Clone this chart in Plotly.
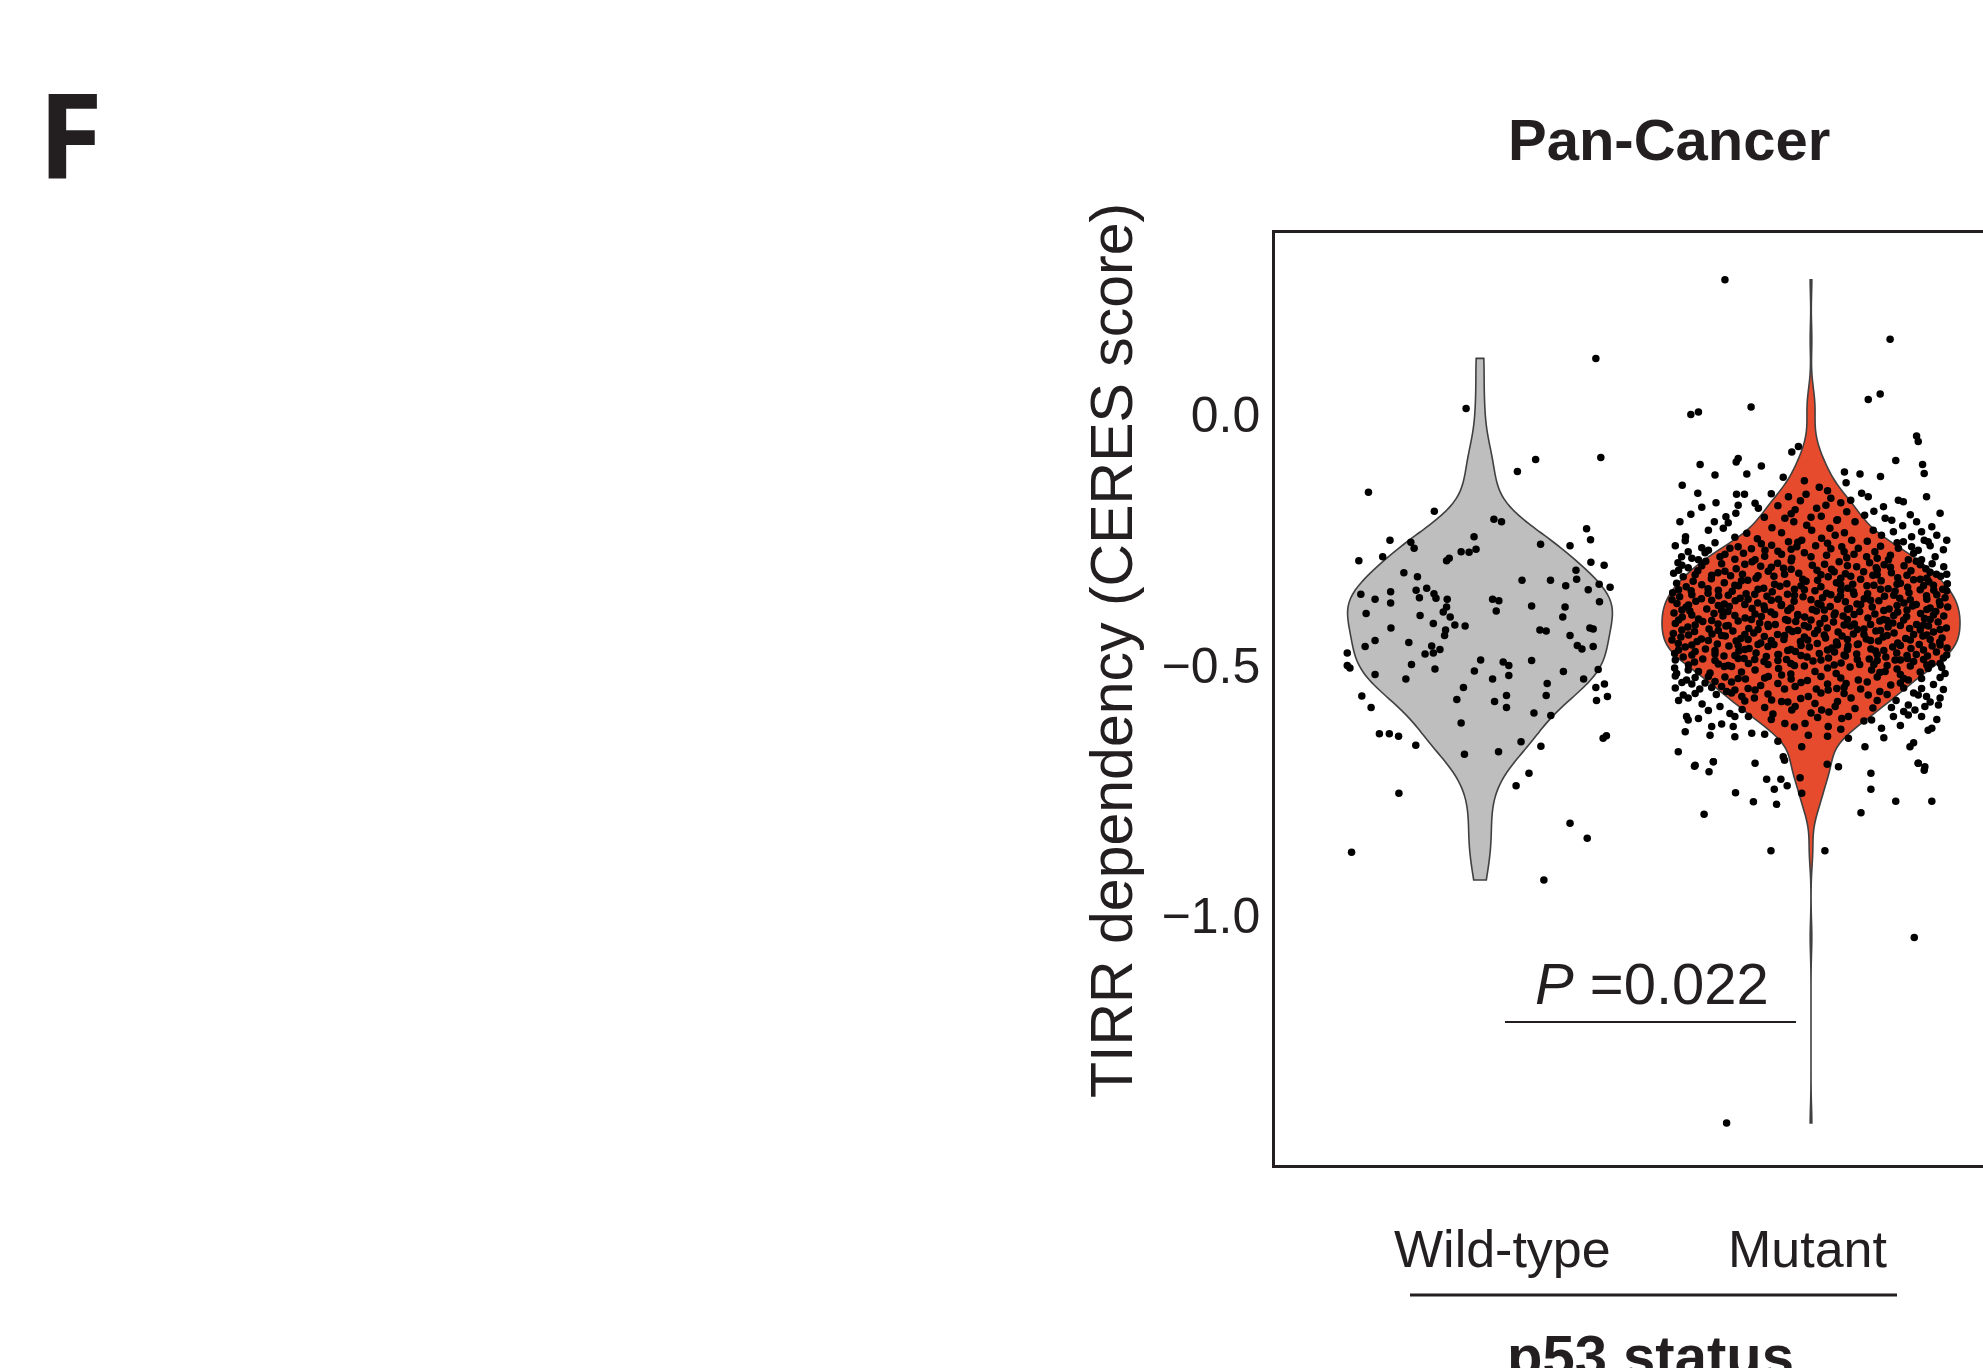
import numpy as np
import plotly.graph_objects as go

# ---------------- data ----------------
categories = ["Wild-type", "Mutant"]
group_title = "p53 status"
panel_label = "F"
chart_title = "Pan-Cancer"
y_title = "TIRR dependency (CERES score)"
y_tick_vals = [0.0, -0.5, -1.0]
y_tick_text = ["0.0", "\u22120.5", "\u22121.0"]
p_text = "<i>P</i> =0.022"

# (jitter offset, CERES score) for each wild-type cell line
wildtype_points = [
    (0.35, 0.112), (-0.042, 0.012), (0.365, -0.086), (0.168, -0.090), (0.113, -0.114),
    (-0.337, -0.155), (-0.138, -0.193), (0.042, -0.209), (0.065, -0.214), (0.322, -0.228),
    (-0.018, -0.244), (0.334, -0.25), (-0.272, -0.251), (-0.209, -0.255), (-0.199, -0.267),
    (0.183, -0.259), (0.272, -0.262), (-0.012, -0.269), (-0.033, -0.275), (-0.057, -0.274),
    (-0.294, -0.284), (-0.093, -0.287), (-0.101, -0.292), (-0.366, -0.292), (0.335, -0.295),
    (0.375, -0.301), (-0.230, -0.316), (0.29, -0.311), (-0.189, -0.324), (0.292, -0.329),
    (0.127, -0.331), (0.213, -0.331), (0.259, -0.342), (0.36, -0.339), (0.393, -0.345),
    (-0.161, -0.347), (-0.360, -0.359), (-0.270, -0.354), (-0.193, -0.351), (-0.139, -0.358),
    (0.327, -0.350), (-0.317, -0.369), (-0.270, -0.376), (-0.183, -0.366), (-0.133, -0.367),
    (-0.099, -0.369), (0.038, -0.369), (0.057, -0.372), (0.361, -0.374), (0.156, -0.382),
    (0.257, -0.384), (-0.101, -0.384), (-0.344, -0.397), (-0.111, -0.394), (0.049, -0.392),
    (-0.181, -0.401), (-0.09, -0.404), (0.25, -0.404),
    (-0.141, -0.417), (-0.076, -0.420), (-0.045, -0.422), (-0.269, -0.426), (-0.104, -0.430),
    (0.181, -0.430), (0.200, -0.432), (0.332, -0.426), (0.342, -0.428), (0.272, -0.441),
    (-0.107, -0.441), (-0.317, -0.451), (-0.215, -0.455), (-0.347, -0.463), (-0.401, -0.476),
    (-0.146, -0.462), (-0.121, -0.469), (-0.166, -0.478), (-0.141, -0.476), (0.294, -0.461),
    (0.308, -0.468), (0.342, -0.463), (0.156, -0.491), (0.002, -0.490), (0.07, -0.494),
    (0.087, -0.501), (-0.401, -0.501), (-0.393, -0.506), (-0.207, -0.499), (-0.136, -0.508),
    (-0.017, -0.512), (0.252, -0.513), (0.357, -0.509), (-0.317, -0.519), (-0.224, -0.528),
    (0.038, -0.528), (0.087, -0.521), (0.203, -0.537), (0.313, -0.528), (0.350, -0.545),
    (0.376, -0.538), (-0.050, -0.545), (-0.357, -0.562), (-0.070, -0.569), (0.044, -0.573),
    (0.08, -0.561), (0.2, -0.561), (0.385, -0.563), (0.352, -0.571), (-0.329, -0.585),
    (0.08, -0.585), (0.163, -0.596), (0.214, -0.601), (-0.057, -0.616), (-0.304, -0.637),
    (-0.274, -0.637), (-0.246, -0.642), (-0.194, -0.660), (-0.047, -0.678), (0.056, -0.673),
    (0.124, -0.653), (0.184, -0.662), (0.372, -0.646), (0.382, -0.641), (0.148, -0.716),
    (0.109, -0.741), (-0.245, -0.756), (0.272, -0.816), (0.324, -0.846), (-0.388, -0.874),
    (0.193, -0.929),
]

# (jitter offset, CERES score) for each mutant cell line
mutant_points = [
    # upper tail
    (-0.26, 0.269), (0.239, 0.150), (0.209, 0.041), (0.173, 0.030), (-0.181, 0.015),
    (-0.34, 0.005), (-0.363, 0.0), (0.319, -0.043), (0.324, -0.054), (-0.038, -0.064),
    (-0.058, -0.075), (-0.22, -0.088), (0.256, -0.092), (-0.226, -0.095), (0.337, -0.1),
    (-0.335, -0.1), (-0.15, -0.103),
    (-0.29, -0.121), (-0.194, -0.119), (-0.084, -0.125), (0.101, -0.115), (0.148, -0.119),
    (0.21, -0.124), (0.342, -0.118), (0.106, -0.136), (-0.389, -0.141), (-0.342, -0.157),
    (-0.225, -0.159), (-0.201, -0.159), (0.153, -0.157), (0.173, -0.164), (0.264, -0.171),
    (0.279, -0.174), (0.349, -0.164), (-0.068, -0.164), (-0.015, -0.159), (-0.287, -0.176),
    (-0.169, -0.177), (-0.159, -0.187), (0.017, -0.187), (0.219, -0.184),
    (-0.032, -0.172), (0.045, -0.181), (-0.048, -0.19), (0.06, -0.167), (-0.1, -0.182),
    (0.09, -0.176), (0.025, -0.145), (-0.02, -0.132),
    (-0.33, -0.185), (-0.12, -0.158), (-0.06, -0.198), (0.05, -0.152), (0.12, -0.171),
    (0.19, -0.193), (0.30, -0.200), (-0.22, -0.181), (0.00, -0.205), (0.08, -0.210),
    (-0.396, -0.214), (-0.363, -0.199), (-0.292, -0.214), (-0.257, -0.204), (-0.227, -0.197),
    (-0.079, -0.207), (0.108, -0.194), (0.224, -0.207), (0.244, -0.211), (0.39, -0.197),
    (0.319, -0.214), (-0.379, -0.244), (-0.31, -0.231), (-0.265, -0.227), (-0.23, -0.245),
    (-0.194, -0.237), (-0.089, -0.236), (-0.013, -0.221), (0.002, -0.231), (0.057, -0.227),
    (0.078, -0.211), (0.133, -0.214), (0.188, -0.231), (0.213, -0.241), (0.249, -0.234),
    (0.279, -0.254), (0.304, -0.244), (0.334, -0.234), (0.365, -0.224), (0.38, -0.241),
    (0.342, -0.251), (0.304, -0.264), (0.324, -0.271), (0.354, -0.254), (-0.391, -0.284),
    (-0.371, -0.274), (-0.34, -0.29), (-0.31, -0.271), (-0.275, -0.284), (-0.245, -0.267),
    (-0.22, -0.264), (-0.204, -0.277), (-0.169, -0.29), (-0.139, -0.271), (-0.119, -0.261),
    (-0.068, -0.254), (-0.043, -0.264), (-0.028, -0.251), (0.032, -0.247), (0.073, -0.241),
    (0.093, -0.264), (0.123, -0.251), (0.143, -0.267), (0.168, -0.284), (0.193, -0.274),
    (0.234, -0.29), (0.264, -0.267), (0.294, -0.29), (0.334, -0.29), (0.375, -0.284),
    (-0.141, -0.205), (-0.052, -0.214), (0.031, -0.203), (0.162, -0.201), (-0.118, -0.226),
    (0.101, -0.236), (-0.162, -0.248), (0.014, -0.262), (-0.089, -0.279), (0.047, -0.281),
    (0.108, -0.286), (-0.058, -0.287), (-0.25, -0.216), (0.277, -0.222),
    (-0.41, -0.262), (-0.33, -0.266), (-0.26, -0.279), (-0.18, -0.268), (-0.10, -0.273),
    (-0.02, -0.276), (0.06, -0.268), (0.13, -0.279), (0.21, -0.263), (0.40, -0.270),
    (-0.36, -0.287), (-0.23, -0.289), (0.00, -0.284), (0.20, -0.287), (0.36, -0.262),
    (-0.38, -0.252), (-0.29, -0.256), (-0.15, -0.258), (-0.04, -0.255), (0.05, -0.257),
    (0.17, -0.253), (0.26, -0.256), (0.41, -0.251),
    (-0.32, -0.276), (-0.14, -0.283), (-0.06, -0.269), (0.10, -0.274), (0.24, -0.281), (0.31, -0.277),
    # dense core
    (-0.39, -0.301), (-0.20, -0.299), (-0.12, -0.305), (0.11, -0.302), (0.24, -0.305), (0.33, -0.300),
    (-0.40, -0.311), (-0.26, -0.313), (-0.06, -0.309), (0.07, -0.314), (0.20, -0.310), (0.36, -0.315),
    (-0.30, -0.321), (-0.16, -0.322), (0.03, -0.320), (0.12, -0.323), (0.29, -0.321), (0.35, -0.327),
    (-0.402, -0.296), (-0.318, -0.293), (-0.27, -0.298), (-0.178, -0.294), (-0.101, -0.297), (-0.06, -0.292),
    (0.041, -0.299), (0.085, -0.294), (0.177, -0.296), (0.221, -0.300), (0.318, -0.293), (0.366, -0.298),
    (-0.371, -0.306), (-0.33, -0.302), (-0.226, -0.308), (-0.152, -0.303), (-0.083, -0.307), (0.004, -0.301),
    (0.062, -0.309), (0.138, -0.304), (0.197, -0.306), (0.281, -0.302), (0.347, -0.308), (0.401, -0.304),
    (-0.415, -0.317), (-0.342, -0.312), (-0.281, -0.316), (-0.207, -0.319), (-0.129, -0.313), (-0.037, -0.317),
    (0.018, -0.311), (0.104, -0.318), (0.159, -0.314), (0.243, -0.316), (0.302, -0.312), (0.379, -0.319),
    (-0.386, -0.324), (-0.301, -0.328), (-0.243, -0.322), (-0.166, -0.327), (-0.112, -0.323), (-0.025, -0.329),
    (0.052, -0.324), (0.09, -0.327), (0.187, -0.321), (0.262, -0.326), (0.33, -0.329), (0.392, -0.323),
    (-0.406, -0.337), (-0.356, -0.333), (-0.262, -0.336), (-0.191, -0.331), (-0.073, -0.338), (-0.015, -0.333),
    (0.077, -0.336), (0.126, -0.339), (0.212, -0.332), (0.27, -0.337), (0.356, -0.334), (0.412, -0.338),
    (-0.377, -0.344), (-0.311, -0.348), (-0.219, -0.342), (-0.143, -0.347), (-0.094, -0.343), (-0.05, -0.349),
    (0.03, -0.344), (0.111, -0.347), (0.169, -0.342), (0.233, -0.348), (0.292, -0.345), (0.37, -0.341), (0.398, -0.349),
    (-0.418, -0.356), (-0.362, -0.352), (-0.311, -0.357), (-0.238, -0.353), (-0.196, -0.358), (-0.117, -0.354), (-0.071, -0.359),
    (0.012, -0.352), (0.047, -0.357), (0.128, -0.354), (0.171, -0.358), (0.254, -0.353), (0.296, -0.356), (0.371, -0.351),
    (-0.397, -0.364), (-0.331, -0.368), (-0.279, -0.362), (-0.214, -0.367), (-0.133, -0.363), (-0.098, -0.369), (-0.024, -0.364),
    (0.035, -0.366), (0.089, -0.362), (0.161, -0.368), (0.222, -0.363), (0.268, -0.367), (0.349, -0.362), (0.405, -0.366),
    (-0.405, -0.377), (-0.348, -0.373), (-0.262, -0.378), (-0.229, -0.372), (-0.161, -0.376), (-0.089, -0.379), (-0.051, -0.373),
    (0.021, -0.377), (0.104, -0.374), (0.139, -0.378), (0.205, -0.372), (0.281, -0.376), (0.318, -0.379), (0.388, -0.374),
    (-0.377, -0.384), (-0.315, -0.388), (-0.247, -0.383), (-0.178, -0.387), (-0.142, -0.382), (-0.061, -0.386), (0.004, -0.389),
    (0.058, -0.383), (0.116, -0.387), (0.185, -0.384), (0.236, -0.388), (0.307, -0.382), (0.36, -0.386), (0.413, -0.384),
    (-0.414, -0.396), (-0.366, -0.392), (-0.293, -0.397), (-0.251, -0.393), (-0.169, -0.398), (-0.121, -0.394), (-0.04, -0.399),
    (0.016, -0.392), (0.073, -0.396), (0.147, -0.393), (0.193, -0.398), (0.262, -0.394), (0.331, -0.397), (0.377, -0.393),
    (-0.389, -0.404), (-0.34, -0.408), (-0.266, -0.402), (-0.199, -0.406), (-0.15, -0.403), (-0.077, -0.409), (-0.019, -0.404),
    (0.041, -0.407), (0.097, -0.402), (0.172, -0.406), (0.219, -0.409), (0.289, -0.403), (0.343, -0.407), (0.401, -0.402),
    (-0.41, -0.417), (-0.327, -0.413), (-0.281, -0.418), (-0.22, -0.412), (-0.155, -0.416), (-0.108, -0.419), (-0.046, -0.413),
    (0.027, -0.417), (0.068, -0.414), (0.131, -0.418), (0.208, -0.412), (0.247, -0.416), (0.319, -0.419), (0.384, -0.414),
    (-0.372, -0.424), (-0.308, -0.428), (-0.257, -0.422), (-0.188, -0.427), (-0.129, -0.423), (-0.067, -0.429), (-0.008, -0.424),
    (0.049, -0.426), (0.119, -0.422), (0.16, -0.428), (0.233, -0.424), (0.298, -0.427), (0.355, -0.422), (0.409, -0.426),
    (-0.416, -0.437), (-0.352, -0.433), (-0.299, -0.438), (-0.236, -0.432), (-0.173, -0.436), (-0.101, -0.439), (-0.056, -0.433),
    (0.011, -0.437), (0.082, -0.434), (0.128, -0.438), (0.196, -0.432), (0.251, -0.436), (0.31, -0.439), (0.37, -0.434),
    (-0.393, -0.444), (-0.331, -0.448), (-0.259, -0.442), (-0.212, -0.447), (-0.141, -0.443), (-0.082, -0.449), (-0.02, -0.444),
    (0.044, -0.446), (0.094, -0.442), (0.167, -0.448), (0.218, -0.444), (0.286, -0.447), (0.338, -0.442), (0.396, -0.446),
    (-0.401, -0.457), (-0.344, -0.453), (-0.283, -0.458), (-0.226, -0.452), (-0.152, -0.456), (-0.112, -0.459), (-0.032, -0.453),
    (0.019, -0.457), (0.077, -0.454), (0.143, -0.458), (0.204, -0.452), (0.262, -0.456), (0.327, -0.459), (0.389, -0.454),
    (-0.38, -0.464), (-0.319, -0.468), (-0.248, -0.462), (-0.187, -0.467), (-0.13, -0.463), (-0.061, -0.469), (-0.005, -0.464),
    (0.063, -0.466), (0.112, -0.462), (0.181, -0.468), (0.247, -0.464), (0.302, -0.467), (0.366, -0.462), (0.411, -0.466),
    (-0.412, -0.477), (-0.35, -0.473), (-0.29, -0.478), (-0.218, -0.472), (-0.166, -0.476), (-0.098, -0.479), (-0.047, -0.473),
    (0.025, -0.477), (0.071, -0.474), (0.138, -0.478), (0.195, -0.472), (0.259, -0.476), (0.318, -0.479), (0.379, -0.474),
    (-0.386, -0.484), (-0.327, -0.488), (-0.263, -0.482), (-0.202, -0.487), (-0.135, -0.483), (-0.074, -0.489), (-0.012, -0.484),
    (0.053, -0.486), (0.104, -0.482), (0.176, -0.488), (0.226, -0.484), (0.291, -0.487), (0.352, -0.482), (0.4, -0.486),
    (-0.352, -0.494), (-0.28, -0.498), (-0.142, -0.493), (-0.061, -0.497), (0.006, -0.492), (0.091, -0.496),
    (0.147, -0.499), (0.31, -0.493), (0.365, -0.497),
    (-0.412, -0.506), (-0.262, -0.503), (-0.098, -0.507), (-0.02, -0.502), (0.05, -0.506), (0.118, -0.504),
    (0.26, -0.508), (0.3, -0.502), (0.395, -0.505),
    (-0.305, -0.516), (-0.21, -0.514), (-0.061, -0.518), (0.012, -0.513), (0.076, -0.517), (0.208, -0.515),
    (0.27, -0.519), (0.33, -0.514), (0.405, -0.517),
    # core, filling between the rows above
    (-0.35, -0.320), (-0.08, -0.319), (0.20, -0.320), (0.41, -0.319),
    (-0.21, -0.332), (0.02, -0.331), (0.15, -0.329), (0.31, -0.330),
    (-0.33, -0.340), (-0.23, -0.341), (-0.11, -0.339), (-0.03, -0.342), (0.09, -0.340), (0.19, -0.341), (0.26, -0.339), (0.34, -0.342),
    (-0.40, -0.350), (-0.28, -0.351), (-0.16, -0.349), (-0.02, -0.350), (0.09, -0.351), (0.21, -0.349), (0.33, -0.350), (0.41, -0.352),
    (-0.36, -0.360), (-0.25, -0.361), (-0.17, -0.359), (-0.05, -0.361), (0.06, -0.360), (0.13, -0.359), (0.25, -0.361), (0.38, -0.360),
    (-0.42, -0.370), (-0.30, -0.371), (-0.19, -0.369), (-0.12, -0.371), (0.00, -0.370), (0.08, -0.369), (0.18, -0.371), (0.30, -0.370), (0.35, -0.369),
    (-0.37, -0.380), (-0.28, -0.381), (-0.20, -0.379), (-0.09, -0.381), (0.03, -0.380), (0.15, -0.379), (0.26, -0.381), (0.39, -0.380),
    (-0.39, -0.390), (-0.27, -0.391), (-0.14, -0.389), (-0.07, -0.391), (0.04, -0.390), (0.11, -0.389), (0.22, -0.391), (0.29, -0.390), (0.35, -0.389),
    (-0.36, -0.400), (-0.23, -0.401), (-0.11, -0.399), (-0.04, -0.401), (0.07, -0.400), (0.13, -0.399), (0.25, -0.401), (0.37, -0.400),
    (-0.40, -0.410), (-0.30, -0.411), (-0.18, -0.409), (-0.07, -0.411), (0.00, -0.410), (0.11, -0.409), (0.23, -0.411), (0.28, -0.410), (0.36, -0.409),
    (-0.35, -0.420), (-0.25, -0.421), (-0.13, -0.419), (-0.02, -0.421), (0.10, -0.420), (0.18, -0.419), (0.27, -0.421), (0.34, -0.420),
    (-0.39, -0.430), (-0.28, -0.431), (-0.16, -0.429), (-0.04, -0.431), (0.02, -0.430), (0.14, -0.429), (0.21, -0.431), (0.33, -0.430), (0.39, -0.429),
    (-0.37, -0.440), (-0.27, -0.441), (-0.20, -0.439), (-0.08, -0.441), (0.04, -0.440), (0.16, -0.439), (0.23, -0.441), (0.35, -0.440),
    (-0.42, -0.450), (-0.31, -0.451), (-0.19, -0.449), (-0.12, -0.451), (-0.01, -0.450), (0.11, -0.449), (0.18, -0.451), (0.30, -0.450), (0.36, -0.449),
    (-0.36, -0.460), (-0.22, -0.461), (-0.16, -0.459), (-0.03, -0.461), (0.08, -0.460), (0.14, -0.459), (0.27, -0.461), (0.39, -0.460),
    (-0.40, -0.470), (-0.29, -0.471), (-0.20, -0.469), (-0.07, -0.471), (0.05, -0.470), (0.11, -0.469), (0.22, -0.471), (0.34, -0.470),
    (-0.36, -0.480), (-0.23, -0.481), (-0.10, -0.479), (-0.03, -0.481), (0.10, -0.480), (0.20, -0.479), (0.29, -0.481), (0.41, -0.480),
    (-0.41, -0.490), (-0.29, -0.491), (-0.17, -0.489), (-0.10, -0.491), (0.03, -0.490), (0.14, -0.489), (0.20, -0.491), (0.27, -0.490), (0.34, -0.489),
    (-0.37, -0.500), (-0.25, -0.501), (-0.13, -0.499), (-0.05, -0.501), (0.07, -0.500), (0.19, -0.499), (0.23, -0.501), (0.35, -0.500),
    # lower shoulder
    (-0.41, -0.522), (-0.35, -0.525), (-0.26, -0.524), (-0.22, -0.527), (-0.14, -0.526), (-0.06, -0.528),
    (0.03, -0.523), (0.09, -0.526), (0.20, -0.524), (0.28, -0.527), (0.39, -0.525),
    (-0.39, -0.535), (-0.32, -0.536), (-0.24, -0.534), (-0.10, -0.537), (-0.03, -0.535), (0.05, -0.538),
    (0.17, -0.534), (0.27, -0.536), (0.37, -0.539),
    (-0.41, -0.546), (-0.30, -0.545), (-0.19, -0.547), (-0.08, -0.548), (0.10, -0.545), (0.15, -0.548),
    (0.28, -0.546), (0.40, -0.549),
    (-0.35, -0.557), (-0.24, -0.556), (-0.13, -0.558), (0.03, -0.556), (0.10, -0.557), (0.23, -0.559), (0.31, -0.556),
    (-0.40, -0.571), (-0.20, -0.572), (-0.07, -0.574), (0.08, -0.573), (0.20, -0.571), (0.36, -0.574),
    (-0.31, -0.591), (-0.14, -0.585), (0.00, -0.596), (0.28, -0.593),
    (-0.34, -0.607), (-0.12, -0.609), (0.02, -0.605), (0.16, -0.612), (0.38, -0.609),
    (-0.27, -0.618), (-0.05, -0.624), (0.09, -0.628), (0.27, -0.621),
    (-0.38, -0.633), (-0.14, -0.638), (0.05, -0.642), (0.22, -0.645),
    (-0.10, -0.652), (0.31, -0.655),
    (-0.406, -0.517), (-0.371, -0.510), (-0.376, -0.530), (-0.340, -0.513), (-0.310, -0.523),
    (-0.290, -0.533), (-0.270, -0.543), (-0.255, -0.553), (-0.230, -0.550), (-0.386, -0.560),
    (-0.371, -0.566), (-0.275, -0.583), (-0.245, -0.597), (-0.230, -0.603), (-0.376, -0.603),
    (-0.371, -0.610), (-0.300, -0.623), (-0.305, -0.640), (-0.235, -0.623), (-0.230, -0.643),
    (-0.189, -0.603), (-0.179, -0.636), (-0.401, -0.673), (-0.350, -0.700), (-0.295, -0.693),
    (-0.084, -0.683), (-0.169, -0.696),
    (0.294, -0.530), (0.334, -0.527), (0.390, -0.497), (0.354, -0.507), (0.334, -0.547),
    (0.324, -0.560), (0.349, -0.563), (0.390, -0.566), (0.385, -0.580), (0.294, -0.580),
    (0.344, -0.583), (0.314, -0.590), (0.249, -0.603), (0.294, -0.600), (0.334, -0.603),
    (0.213, -0.626), (0.354, -0.630), (0.365, -0.626), (0.163, -0.663), (0.299, -0.663),
    (0.324, -0.696), (0.344, -0.703),
    (-0.129, -0.523), (-0.089, -0.520), (-0.048, -0.543), (-0.008, -0.563), (0.052, -0.550),
    (0.078, -0.547), (0.012, -0.577), (0.032, -0.590), (0.073, -0.583), (0.093, -0.607),
    (0.113, -0.603), (0.133, -0.587), (-0.079, -0.617), (-0.018, -0.617), (-0.008, -0.640),
    (-0.028, -0.663), (0.052, -0.623), (0.113, -0.646), (0.183, -0.610), (0.173, -0.560),
    (0.143, -0.530), (0.183, -0.510), (0.224, -0.513), (0.254, -0.490), (-0.169, -0.550),
    (-0.209, -0.563), (-0.119, -0.570), (-0.089, -0.573), (-0.048, -0.583), (-0.058, -0.590),
    (-0.189, -0.497), (-0.169, -0.510), (-0.240, -0.503), (-0.220, -0.487),
    (-0.36, -0.538), (-0.198, -0.528), (-0.011, -0.531), (0.106, -0.537), (0.241, -0.54),
    (-0.152, -0.541), (0.016, -0.548), (0.208, -0.553), (-0.336, -0.548), (-0.171, -0.566),
    (0.121, -0.566), (0.257, -0.571), (-0.329, -0.578), (-0.031, -0.567), (0.054, -0.594),
    (-0.208, -0.589), (0.187, -0.586), (-0.115, -0.598), (0.243, -0.585), (-0.286, -0.559),
    # lower tail
    (-0.352, -0.702), (-0.295, -0.693), (-0.308, -0.713), (-0.08, -0.69), (-0.134, -0.728),
    (-0.091, -0.728), (-0.111, -0.748), (-0.072, -0.741), (-0.033, -0.725), (-0.028, -0.756),
    (0.049, -0.698), (0.083, -0.703), (-0.228, -0.755), (-0.174, -0.773), (-0.104, -0.778),
    (-0.323, -0.798), (0.181, -0.716), (0.181, -0.748), (0.151, -0.795), (0.256, -0.772),
    (0.324, -0.696), (0.342, -0.710), (0.365, -0.772), (-0.121, -0.871), (0.042, -0.871),
    (0.312, -1.044), (-0.255, -1.414),
]

# ---------------- layout geometry (pixels of the 1983x1368 page) ----------------
W, H = 1983, 1368
PLOT_L, PLOT_R, PLOT_T, PLOT_B = 1275, 1983, 233, 1165
X0_PX, X_PER_UNIT = 1480, 331.0      # category 0 centre, px per category step
Y0_PX, Y_PER_UNIT = 414.5, 501.0     # y=0 pixel, px per unit

x_range = [(PLOT_L - X0_PX) / X_PER_UNIT, (PLOT_R - X0_PX) / X_PER_UNIT]
y_range = [(Y0_PX - PLOT_B) / Y_PER_UNIT, (Y0_PX - PLOT_T) / Y_PER_UNIT]


def fx(px):
    return (px - PLOT_L) / (PLOT_R - PLOT_L)


def fy(py):
    return (PLOT_B - py) / (PLOT_B - PLOT_T)


def nrd0(v):
    v = np.asarray(v)
    q75, q25 = np.percentile(v, [75, 25])
    s = min(np.std(v, ddof=1), (q75 - q25) / 1.34)
    return 0.9 * s * len(v) ** (-0.2)


FONT = "Liberation Sans, Arial, Helvetica, sans-serif"
INK = "#231F20"
fills = ["#BEBEBE", "#E64B2D"]
violin_widths = [0.80, 0.90]
groups = [wildtype_points, mutant_points]

fig = go.Figure()
for i, pts in enumerate(groups):
    ys = [p[1] for p in pts]
    fig.add_trace(go.Violin(
        x=[i] * len(ys), y=ys, name=categories[i],
        points=False, spanmode="hard", bandwidth=nrd0(ys),
        scalemode="width", width=violin_widths[i],
        fillcolor=fills[i], opacity=1,
        line=dict(color="#404040", width=1.6),
        box_visible=False, meanline_visible=False,
        hoverinfo="skip", showlegend=False,
    ))
for i, pts in enumerate(groups):
    fig.add_trace(go.Scatter(
        x=[i + p[0] for p in pts], y=[p[1] for p in pts], mode="markers",
        marker=dict(color="black", size=7.5, symbol="circle", line=dict(width=0)),
        hoverinfo="skip", showlegend=False,
    ))

annotations = [
    dict(text=f"<b>{panel_label}</b>", x=fx(36), y=fy(134), xanchor="left", yanchor="middle",
         font=dict(family="Open Sans, Lato, sans-serif", size=118, color=INK)),
    dict(text=f"<b>{chart_title}</b>", x=fx(1669), y=fy(139), xanchor="center", yanchor="middle",
         font=dict(family=FONT, size=58, color=INK)),
    dict(text=y_title, x=fx(1112), y=fy(651), textangle=-90, xanchor="center", yanchor="middle",
         font=dict(family=FONT, size=59, color=INK)),
    dict(text=p_text, x=fx(1652), y=fy(983), xanchor="center", yanchor="middle",
         font=dict(family=FONT, size=58, color=INK)),
    dict(text=f"<b>{group_title}</b>", x=fx(1650), y=fy(1355), xanchor="center", yanchor="middle",
         font=dict(family=FONT, size=58, color=INK)),
]
label_px = [1502, 1808]
for lab, px in zip(categories, label_px):
    annotations.append(dict(text=lab, x=fx(px), y=fy(1249), xanchor="center", yanchor="middle",
                            font=dict(family=FONT, size=52, color=INK)))
for a in annotations:
    a.update(xref="paper", yref="paper", showarrow=False)

shapes = [
    # line under the P value
    dict(type="line", xref="paper", yref="paper", x0=fx(1505), x1=fx(1796), y0=fy(1022), y1=fy(1022),
         line=dict(color=INK, width=2.2)),
    # group bracket line under category labels
    dict(type="line", xref="paper", yref="paper", x0=fx(1410), x1=fx(1897), y0=fy(1295), y1=fy(1295),
         line=dict(color=INK, width=2.8)),
]

fig.update_layout(
    width=W, height=H,
    margin=dict(l=PLOT_L, r=W - PLOT_R, t=PLOT_T, b=H - PLOT_B, pad=0),
    paper_bgcolor="white", plot_bgcolor="white",
    violinmode="overlay",
    annotations=annotations, shapes=shapes,
    xaxis=dict(range=x_range, showgrid=False, zeroline=False, showticklabels=False, ticks="",
               showline=True, mirror=True, linecolor=INK, linewidth=2.5, fixedrange=True),
    yaxis=dict(range=y_range, showgrid=False, zeroline=False, tickvals=y_tick_vals, ticktext=y_tick_text,
               ticks="", ticklabelstandoff=2, tickfont=dict(family=FONT, size=50, color=INK),
               showline=True, mirror=False, linecolor=INK, linewidth=2.5, fixedrange=True),
)

fig.write_html("out.html", config={"displayModeBar": False},
               post_script="document.body.style.margin='0';document.body.style.overflow='hidden';")
